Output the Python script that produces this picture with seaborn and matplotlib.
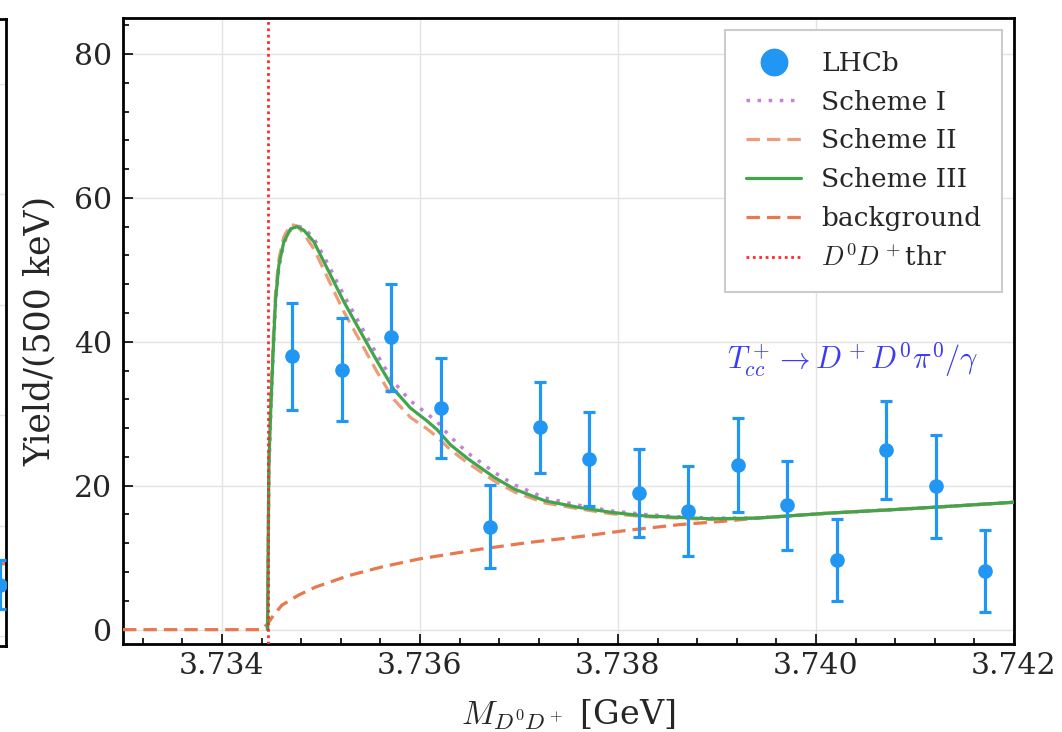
import numpy as np
import pandas as pd
import matplotlib
matplotlib.use("Agg")
import matplotlib.pyplot as plt
from matplotlib.lines import Line2D
import seaborn as sns

# ---- data -------------------------------------------------------------
threshold = 3.73446  # D0 D+ threshold [GeV]

# LHCb yields per 500 keV bin (bin centres)
bin_centres = [3.73471, 3.73521, 3.73571, 3.73621, 3.73671, 3.73721, 3.73771,
               3.73821, 3.73871, 3.73921, 3.73971, 3.74021, 3.74071, 3.74121,
               3.74171]
yields = [38.0, 36.1, 40.6, 30.8, 14.3, 28.1, 23.7, 19.0, 16.5, 22.9, 17.3,
          9.7, 25.0, 19.9, 8.1]
yield_err = [7.45, 7.15, 7.4, 6.9, 5.8, 6.3, 6.5, 6.1, 6.2, 6.5, 6.2, 5.7,
             6.8, 7.2, 5.7]

# background line shape
bkg_x = [3.73300, 3.73440, 3.73446, 3.734521, 3.734605, 3.734774, 3.734942,
         3.735278, 3.735611, 3.735984, 3.736619, 3.737093, 3.737598,
         3.738093, 3.738627, 3.739101, 3.739404, 3.740140, 3.740816,
         3.741421, 3.742000]
bkg_y = [0.0, 0.0, 0.8, 2.0, 3.4, 4.8, 5.9, 7.5, 8.7, 9.8, 11.2, 12.1, 12.9,
         13.8, 14.6, 15.1, 15.5, 16.2, 16.7, 17.2, 17.7]

# signal + background line shapes near threshold
scheme_x = [3.73446, 3.734474, 3.734491, 3.734518, 3.734542, 3.734575,
            3.734625, 3.734693, 3.734760, 3.734827, 3.734928, 3.735063,
            3.735230, 3.735399, 3.735567, 3.735735, 3.735903, 3.736072,
            3.736172, 3.736307, 3.736488, 3.736757, 3.736959, 3.737262,
            3.737598, 3.737933, 3.738270, 3.738606, 3.738942]
scheme1_y = [0.0, 22.0, 29.0, 38.5, 45.5, 50.3, 53.7, 55.6, 56.1, 55.8, 54.4,
             51.0, 46.5, 42.3, 38.2, 34.4, 31.8, 30.0, 28.9, 26.8, 24.5, 21.8,
             20.1, 18.3, 17.3, 16.5, 16.0, 15.7, 15.5]
scheme2_y = [0.0, 24.5, 31.5, 40.5, 47.0, 51.5, 54.6, 56.3, 56.1, 55.0, 52.9,
             49.0, 44.2, 40.0, 35.8, 32.0, 29.5, 27.9, 26.8, 25.0, 23.1, 20.6,
             19.1, 17.6, 16.8, 16.1, 15.7, 15.5, 15.3]
scheme3_y = [0.0, 23.2, 29.9, 39.1, 46.0, 50.7, 53.9, 55.7, 56.0, 55.5, 53.9,
             50.2, 45.6, 41.4, 37.3, 33.4, 30.8, 29.0, 27.8, 25.7, 23.7, 21.1,
             19.5, 17.9, 17.0, 16.3, 15.8, 15.6, 15.4]

# neighbouring panel (only its right edge is inside the figure)
side_x = [0.982]
side_y = [4.7]
side_err = [2.2]
side_bkg_x = [0.90, 1.00]
side_bkg_y = [6.3, 6.6]

# ---- style ------------------------------------------------------------
sns.set_theme(style="white")
plt.rcParams["font.family"] = ["DejaVu Serif"]
plt.rcParams["mathtext.fontset"] = "cm"

c_data = "#2196f3"
c_s1 = "#c77ddb"
c_s2 = "#ee9c7a"
c_s3 = "#3fa64a"
c_bkg = "#e8784e"
c_thr = "#ff2a2a"

LW = 2.3
DASH = (4.2, 2.2)
DOT = (1, 2.2)
THR_DOT = (1, 1.3)

fig = plt.figure(figsize=(10.62, 7.32), dpi=100)
ax = fig.add_axes([0.1158, 0.1202, 0.8390, 0.8552])

# tails of the schemes follow the background above the merge point
tail = [(x, y) for x, y in zip(bkg_x, bkg_y) if x > 3.7392]
tail_x = [t[0] for t in tail]
tail_y = [t[1] for t in tail]


def curve(xs, ys):
    return pd.DataFrame({"x": list(xs) + tail_x, "y": list(ys) + tail_y})


sns.lineplot(data=pd.DataFrame({"x": bkg_x, "y": bkg_y}), x="x", y="y",
             ax=ax, color=c_bkg, lw=LW, sort=False, estimator=None,
             zorder=3).lines[-1].set_dashes(DASH)
sns.lineplot(data=curve(scheme_x, scheme2_y), x="x", y="y", ax=ax,
             color=c_s2, lw=LW, sort=False, estimator=None,
             zorder=4).lines[-1].set_dashes(DASH)
sns.lineplot(data=curve(scheme_x, scheme1_y), x="x", y="y", ax=ax,
             color=c_s1, lw=2.5, sort=False, estimator=None,
             zorder=4).lines[-1].set_dashes(DOT)
sns.lineplot(data=curve(scheme_x, scheme3_y), x="x", y="y", ax=ax,
             color=c_s3, lw=LW, sort=False, estimator=None, zorder=5)

ax.axvline(threshold, color=c_thr, lw=2.0, dashes=THR_DOT, zorder=6)

ax.errorbar(bin_centres, yields, yerr=yield_err, fmt="o", color=c_data,
            ms=9.5, elinewidth=2.3, capsize=4.5, capthick=2.3, zorder=7)

ax.set_xlim(3.733, 3.742)
ax.set_ylim(-2, 85)
ax.xaxis.set_major_locator(matplotlib.ticker.MultipleLocator(0.002))
ax.xaxis.set_minor_locator(matplotlib.ticker.MultipleLocator(0.0004))
ax.yaxis.set_major_locator(matplotlib.ticker.MultipleLocator(20))
ax.yaxis.set_minor_locator(matplotlib.ticker.MultipleLocator(4))
ax.xaxis.set_major_formatter(matplotlib.ticker.FormatStrFormatter("%.3f"))
ax.tick_params(which="both", direction="in", top=False, right=False,
               bottom=True, left=True, labelsize=21.5, color="black",
               width=1.2)
ax.tick_params(which="major", length=7)
ax.tick_params(axis="x", which="major", pad=6)
ax.tick_params(axis="y", which="major", pad=8)
ax.tick_params(which="minor", length=4)
ax.grid(True, which="major", color="#e3e3e3", lw=1.0)
ax.set_axisbelow(True)
for s in ax.spines.values():
    s.set_linewidth(2.0)
    s.set_color("black")

ax.set_xlabel(r"$M_{D^0D^+}$ [GeV]", fontsize=24, labelpad=12)
ax.set_ylabel("Yield/(500 keV)", fontsize=25, labelpad=12)

ax.text(3.74037, 37.6, r"$T_{cc}^+\to D^+D^0\pi^0/\gamma$", color="#3b3bf5",
        fontsize=22, ha="center", va="center")

handles = [
    Line2D([], [], ls="none", marker="o", ms=19, color=c_data),
    Line2D([], [], color=c_s1, lw=2.5, dashes=DOT),
    Line2D([], [], color=c_s2, lw=LW, dashes=DASH),
    Line2D([], [], color=c_s3, lw=LW),
    Line2D([], [], color=c_bkg, lw=LW, dashes=DASH),
    Line2D([], [], color=c_thr, lw=2.0, dashes=THR_DOT),
]
labels = ["LHCb", "Scheme I", "Scheme II", "Scheme III", "background",
          r"$D^0D^+$thr"]
leg = ax.legend(handles, labels, loc="upper right", fontsize=19,
                frameon=True, fancybox=False, edgecolor="#cccccc",
                framealpha=1.0, borderpad=0.8, labelspacing=0.52,
                handlelength=2.1, handletextpad=0.75, borderaxespad=0.45)
leg.get_frame().set_linewidth(1.5)

# neighbouring panel on the left, cut by the figure border
ax0 = fig.add_axes([-0.3, 0.1175, 0.3 + 6 / 1062, 0.857])
ax0.errorbar(side_x, side_y, yerr=side_err, fmt="o", color=c_data, ms=9.5,
             elinewidth=2.3, capsize=4.5, capthick=2.3, zorder=5)
ax0.plot(side_bkg_x, side_bkg_y, color=c_bkg, lw=LW, dashes=DASH)
ax0.set_xlim(0, 1)
ax0.set_ylim(-0.86, 55.9)
ax0.set_yticks([0, 10, 20, 30, 40, 50])
ax0.set_xticks([])
ax0.set_yticklabels([])
ax0.grid(True, axis="y", color="#e3e3e3", lw=1.0)
ax0.set_axisbelow(True)
for s in ax0.spines.values():
    s.set_linewidth(2.0)
    s.set_color("black")

fig.savefig("out.png", dpi=100)
